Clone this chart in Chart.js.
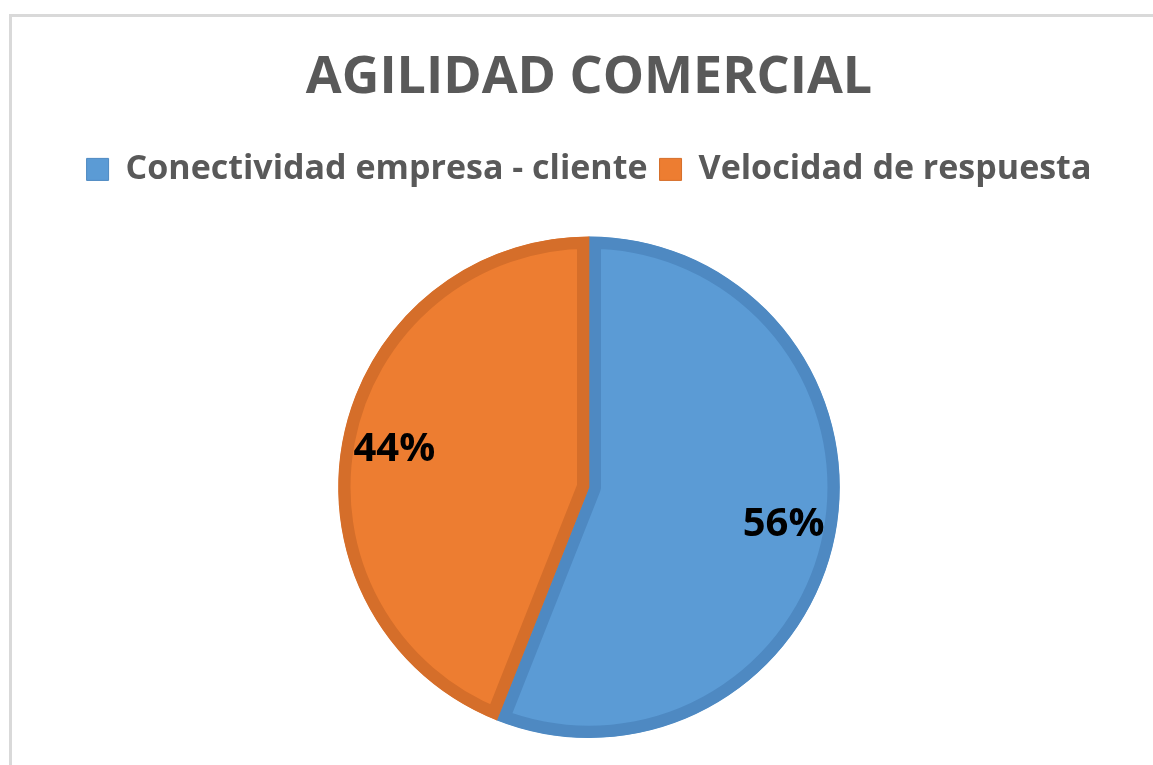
<!DOCTYPE html>
<html lang="es">
  <head>
    <meta charset="UTF-8" />
    <script src="https://cdn.jsdelivr.net/npm/chart.js@4/dist/chart.umd.min.js"></script>
    <style>
      html, body { margin: 0; padding: 0; background: #fff; }
      #marco {
        position: absolute; left: 9px; top: 14px; right: -10px; bottom: -10px;
        border-top: 3px solid #d9d9d9; border-left: 3px solid #d9d9d9;
      }
      #grafico { position: absolute; left: 0; top: 0; }
    </style>
    <title>Agilidad comercial</title>
  </head>
  <body>
    <div id="marco"></div>
    <canvas id="grafico" width="1153" height="765"></canvas>

    <script>
      // datos
      const categorias = ['Conectividad empresa - cliente', 'Velocidad de respuesta'];
      const valores = [56, 44];
      const relleno = ['#5b9bd5', '#ed7d31'];
      const bordes = ['#4e89c2', '#d56e2a'];

      const fuente = "'Open Sans', 'DejaVu Sans', sans-serif";

      // porcentajes dentro de cada porcion
      const etiquetas = {
        id: 'etiquetas',
        afterDatasetsDraw(chart) {
          const ctx = chart.ctx;
          const meta = chart.getDatasetMeta(0);
          const total = valores.reduce((a, b) => a + b, 0);
          ctx.save();
          ctx.font = 'bold 40px ' + fuente;
          ctx.fillStyle = '#000';
          ctx.textAlign = 'center';
          ctx.textBaseline = 'middle';
          meta.data.forEach((arc, i) => {
            const p = arc.getProps(['x', 'y', 'startAngle', 'endAngle', 'outerRadius']);
            const mid = (p.startAngle + p.endAngle) / 2;
            const r = p.outerRadius * 0.79;
            const txt = Math.round(valores[i] / total * 100) + '%';
            ctx.fillText(txt, p.x + Math.cos(mid) * r, p.y + Math.sin(mid) * r);
          });
          ctx.restore();
        }
      };

      // espacio extra debajo de la leyenda
      const espacio = {
        id: 'espacio',
        afterInit(chart) {
          const fit = chart.legend.fit;
          chart.legend.fit = function () {
            fit.call(this);
            this.height += 40;
          };
        }
      };

      const chart = new Chart(document.getElementById('grafico'), {
        type: 'pie',
        data: {
          labels: categorias,
          datasets: [{
            data: valores,
            backgroundColor: relleno,
            borderColor: bordes,
            borderWidth: 12,
            borderAlign: 'inner'
          }]
        },
        options: {
          responsive: false,
          animation: false,
          devicePixelRatio: 1,
          layout: { padding: { left: 25, right: 0, top: 0, bottom: 27 } },
          plugins: {
            title: {
              display: true,
              text: 'AGILIDAD COMERCIAL',
              color: '#595959',
              font: { family: fuente, size: 52, weight: 'bold' },
              padding: { top: 47, bottom: 31 }
            },
            legend: {
              position: 'top',
              labels: {
                color: '#595959',
                font: { family: fuente, size: 34, weight: 'bold' },
                boxWidth: 22,
                boxHeight: 22,
                padding: 12,
                generateLabels(chart) {
                  return categorias.map((c, i) => ({
                    text: c,
                    fillStyle: relleno[i],
                    strokeStyle: bordes[i],
                    lineWidth: 1,
                    fontColor: '#595959',
                    index: i
                  }));
                }
              }
            },
            tooltip: { enabled: false }
          }
        },
        plugins: [etiquetas, espacio]
      });
    </script>
  </body>
</html>
